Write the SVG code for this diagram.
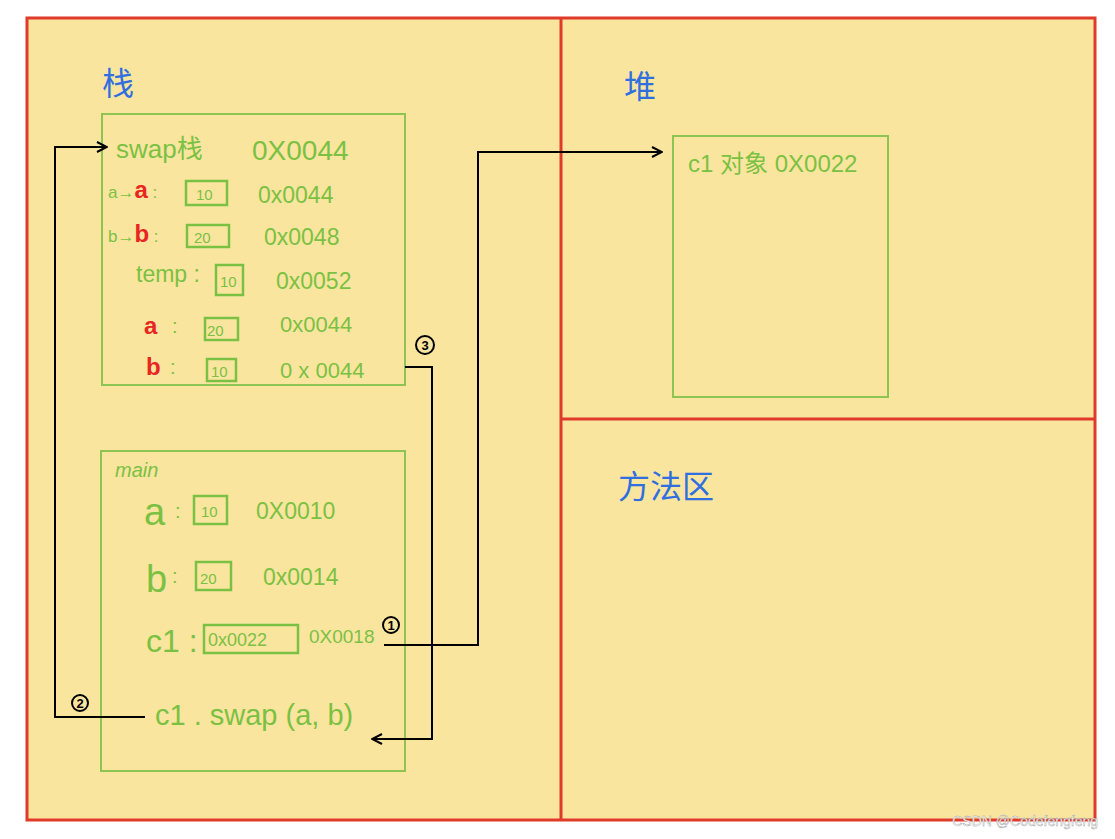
<svg xmlns="http://www.w3.org/2000/svg" width="1115" height="839" viewBox="0 0 1115 839">
<style>
.g{font-family:"Liberation Sans","Noto Sans CJK SC",sans-serif;fill:#7ac143}
.r{fill:#e8251f;font-weight:bold}
.t{font-family:"Liberation Sans","Noto Sans CJK SC",sans-serif;fill:#2f6fdf;font-size:32px}
.box{fill:none;stroke:#8cc554;stroke-width:2}
.vb{fill:none;stroke:#7ac143;stroke-width:2.5}
.c{fill:none;stroke:#000;stroke-width:2}
.n{font-family:"Liberation Sans",sans-serif;font-size:13px;font-weight:bold;fill:#000;text-anchor:middle}
</style>
<defs><marker id="a" markerWidth="12" markerHeight="12" refX="11" refY="6" orient="auto" markerUnits="userSpaceOnUse"><path d="M1,1 L11,6 L1,11" fill="none" stroke="#000" stroke-width="2"/></marker></defs>
<rect width="1115" height="839" fill="#fff"/>
<g id="regions">
<rect x="27" y="18" width="1068" height="802" fill="#fae59f" stroke="#e03a2a" stroke-width="3"/>
<line x1="561" y1="18" x2="561" y2="820" stroke="#e03a2a" stroke-width="3"/>
<line x1="561" y1="419" x2="1095" y2="419" stroke="#e03a2a" stroke-width="3"/>
<text class="t" x="102" y="95">栈</text>
<text class="t" x="624" y="98">堆</text>
<text class="t" x="618" y="498">方法区</text>
</g>
<g id="swap">
<rect class="box" x="102" y="114" width="303" height="271"/>
<text class="g" x="116" y="158" font-size="26">swap栈</text><text class="g" x="252" y="160" font-size="28">0X0044</text>
<text class="g" x="108" y="198" font-size="17">a→<tspan class="r" font-size="24">a</tspan> :</text><rect class="vb" x="186" y="181" width="41" height="24"/><text class="g" x="196" y="200" font-size="15">10</text><text class="g" x="258" y="203" font-size="23">0x0044</text>
<text class="g" x="108" y="242" font-size="17">b→<tspan class="r" font-size="24">b</tspan> :</text><rect class="vb" x="187" y="225" width="42" height="22"/><text class="g" x="194" y="243" font-size="15">20</text><text class="g" x="264" y="245" font-size="23">0x0048</text>
<text class="g" x="136" y="282" font-size="23">temp :</text><rect class="vb" x="216" y="265" width="27" height="30"/><text class="g" x="220" y="287" font-size="15">10</text><text class="g" x="276" y="289" font-size="23">0x0052</text>
<text class="g r" x="144" y="334" font-size="24">a</text><text class="g" x="172" y="333" font-size="20">:</text><rect class="vb" x="205" y="318" width="33" height="22"/><text class="g" x="207" y="336" font-size="15">20</text><text class="g" x="280" y="332" font-size="22">0x0044</text>
<text class="g r" x="146" y="375" font-size="24">b</text><text class="g" x="170" y="374" font-size="20">:</text><rect class="vb" x="207" y="359" width="29" height="22"/><text class="g" x="211" y="377" font-size="15">10</text><text class="g" x="280" y="378" font-size="22">0 x 0044</text>
</g>
<g id="main">
<rect class="box" x="101" y="451" width="304" height="320"/>
<text class="g" x="115" y="477" font-size="20" font-style="italic">main</text>
<text class="g" x="144" y="525" font-size="38">a</text><text class="g" x="175" y="518" font-size="20">:</text><rect class="vb" x="194" y="496" width="33" height="28"/><text class="g" x="201" y="517" font-size="15">10</text><text class="g" x="256" y="519" font-size="23">0X0010</text>
<text class="g" x="146" y="592" font-size="38">b</text><text class="g" x="172" y="583" font-size="20">:</text><rect class="vb" x="196" y="562" width="35" height="28"/><text class="g" x="200" y="584" font-size="15">20</text><text class="g" x="263" y="585" font-size="23">0x0014</text>
<text class="g" x="146" y="652" font-size="32">c1 :</text><rect class="vb" x="204" y="625" width="94" height="28"/><text class="g" x="208" y="646" font-size="18">0x0022</text><text class="g" x="309" y="643" font-size="19">0X0018</text>
<text class="g" x="155" y="725" font-size="29">c1 . swap (a, b)</text>
</g>
<g id="heap">
<rect class="box" x="673" y="136" width="215" height="261"/>
<text class="g" x="688" y="172" font-size="24">c1 对象 0X0022</text>
</g>
<g id="connectors">
<polyline class="c" points="384,645 478,645 478,152 662,152" marker-end="url(#a)"/>
<polyline class="c" points="145,717 55,717 55,147 107,147" marker-end="url(#a)"/>
<polyline class="c" points="405,367 432,367 432,739 372,739" marker-end="url(#a)"/>
<circle cx="391" cy="625" r="8" fill="none" stroke="#000" stroke-width="2"/><text class="n" x="391" y="630">1</text>
<circle cx="80" cy="703" r="8" fill="none" stroke="#000" stroke-width="2"/><text class="n" x="80" y="708">2</text>
<circle cx="425" cy="345" r="9" fill="none" stroke="#000" stroke-width="2"/><text class="n" x="425" y="350">3</text>
</g>
<text x="1098" y="826" font-family="Liberation Sans,sans-serif" font-size="14" fill="#fff" stroke="#999" stroke-width="0.4" text-anchor="end">CSDN @Codefengfeng</text>
</svg>
